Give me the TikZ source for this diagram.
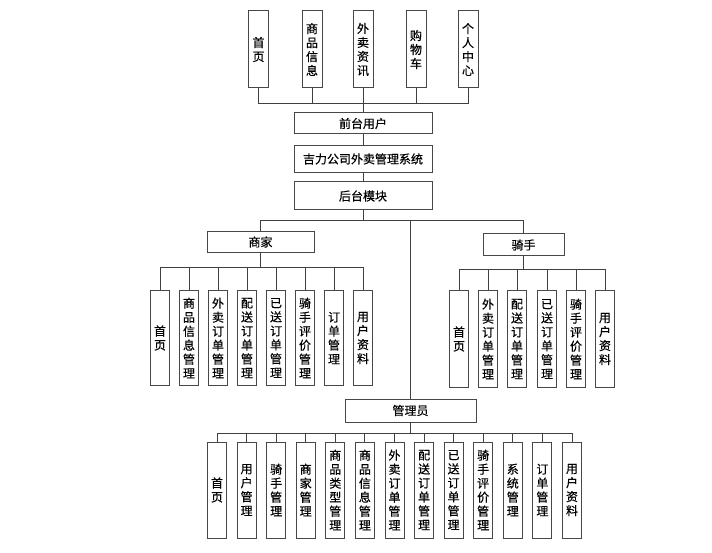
\documentclass[tikz,border=0pt]{standalone}
\usepackage{fontspec}
\newfontfamily\cjk[BoldFont={Noto Sans CJK SC},BoldFeatures={FakeBold=0.5}]{Noto Sans CJK SC}
\begin{document}
\begin{tikzpicture}[x=1pt,y=-1pt,
  box/.style={draw=black!72,line width=1pt,fill=white,inner sep=0pt,font=\cjk\bfseries\fontsize{12}{14}\selectfont,align=center},
  vtop/.style={box,minimum width=20pt,minimum height=77pt},
  vmid/.style={box,minimum width=19pt,minimum height=95pt},
  vlow/.style={box,minimum width=19pt,minimum height=96pt},
  conn/.style={draw=black!75,line width=0.9pt}]
\useasboundingbox (0,0) rectangle (712,553);
% top boxes
\node[vtop] (t1) at (258.5,49.5) {首\\页};
\node[vtop] (t2) at (312,49.5) {商\\品\\信\\息};
\node[vtop] (t3) at (363,49.5) {外\\卖\\资\\讯};
\node[vtop] (t4) at (416,49.5) {购\\物\\车};
\node[vtop] (t5) at (468,49.5) {个\\人\\中\\心};
\node[box,minimum width=138pt,minimum height=21pt] (front) at (363,123.5) {前台用户};
\node[box,minimum width=138pt,minimum height=27pt] (sys) at (363,159) {吉力公司外卖管理系统};
\node[box,minimum width=138pt,minimum height=28pt] (back) at (363,196) {后台模块};
\coordinate (jtop) at (363,103);
\draw[conn] (t1.south) |- (t5.south |- jtop) -- (t5.south);
\foreach \n in {t2,t3,t4} \draw[conn] (\n.south) -- (\n.south |- jtop);
\draw[conn] (jtop) -- (front.north);
\draw[conn] (front.south) -- (sys.north);
\draw[conn] (sys.south) -- (back.north);
% second level
\node[box,minimum width=107pt,minimum height=21pt] (mer) at (260.5,242) {商家};
\node[box,minimum width=81pt,minimum height=22pt] (rid) at (523.5,245) {骑手};
\node[box,minimum width=131pt,minimum height=23pt] (adm) at (410.5,410.5) {管理员};
\coordinate (jmid) at (363,220);
\draw[conn] (back.south) -- (jmid);
\draw[conn] (mer.north) |- (rid.north |- jmid) -- (rid.north);
\draw[conn] (adm.north |- jmid) -- (adm.north);
% merchant children
\node[vmid] (m1) at (160,338) {首\\页};
\node[vmid] (m2) at (189,338) {商\\品\\信\\息\\管\\理};
\node[vmid] (m3) at (218,338) {外\\卖\\订\\单\\管\\理};
\node[vmid] (m4) at (247,338) {配\\送\\订\\单\\管\\理};
\node[vmid] (m5) at (276,338) {已\\送\\订\\单\\管\\理};
\node[vmid] (m6) at (305,338) {骑\\手\\评\\价\\管\\理};
\node[vmid] (m7) at (334,338) {订\\单\\管\\理};
\node[vmid] (m8) at (363,338) {用\\户\\资\\料};
\coordinate (jm) at (260.5,267);
\draw[conn] (mer.south) -- (jm);
\draw[conn] (m1.north) |- (m8.north |- jm) -- (m8.north);
\foreach \n in {m2,m3,m4,m5,m6,m7} \draw[conn] (\n.north) -- (\n.north |- jm);
% rider children
\node[vlow] (r1) at (459,339) {首\\页};
\node[vlow] (r2) at (488,339) {外\\卖\\订\\单\\管\\理};
\node[vlow] (r3) at (517,339) {配\\送\\订\\单\\管\\理};
\node[vlow] (r4) at (547,339) {已\\送\\订\\单\\管\\理};
\node[vlow] (r5) at (576,339) {骑\\手\\评\\价\\管\\理};
\node[vlow] (r6) at (605,339) {用\\户\\资\\料};
\coordinate (jr) at (523.5,269);
\draw[conn] (rid.south) -- (jr);
\draw[conn] (r1.north) |- (r6.north |- jr) -- (r6.north);
\foreach \n in {r2,r3,r4,r5} \draw[conn] (\n.north) -- (\n.north |- jr);
% admin children
\node[vlow] (a1) at (217,490) {首\\页};
\node[vlow] (a2) at (246.6,490) {用\\户\\管\\理};
\node[vlow] (a3) at (276.2,490) {骑\\手\\管\\理};
\node[vlow] (a4) at (305.7,490) {商\\家\\管\\理};
\node[vlow] (a5) at (335.3,490) {商\\品\\类\\型\\管\\理};
\node[vlow] (a6) at (364.9,490) {商\\品\\信\\息\\管\\理};
\node[vlow] (a7) at (394.5,490) {外\\卖\\订\\单\\管\\理};
\node[vlow] (a8) at (424.1,490) {配\\送\\订\\单\\管\\理};
\node[vlow] (a9) at (453.6,490) {已\\送\\订\\单\\管\\理};
\node[vlow] (a10) at (483.2,490) {骑\\手\\评\\价\\管\\理};
\node[vlow] (a11) at (512.8,490) {系\\统\\管\\理};
\node[vlow] (a12) at (542.4,490) {订\\单\\管\\理};
\node[vlow] (a13) at (572,490) {用\\户\\资\\料};
\coordinate (ja) at (410.5,433);
\draw[conn] (adm.south) -- (ja);
\draw[conn] (a1.north) |- (a13.north |- ja) -- (a13.north);
\foreach \n in {a2,a3,a4,a5,a6,a7,a8,a9,a10,a11,a12} \draw[conn] (\n.north) -- (\n.north |- ja);
\end{tikzpicture}
\end{document}
